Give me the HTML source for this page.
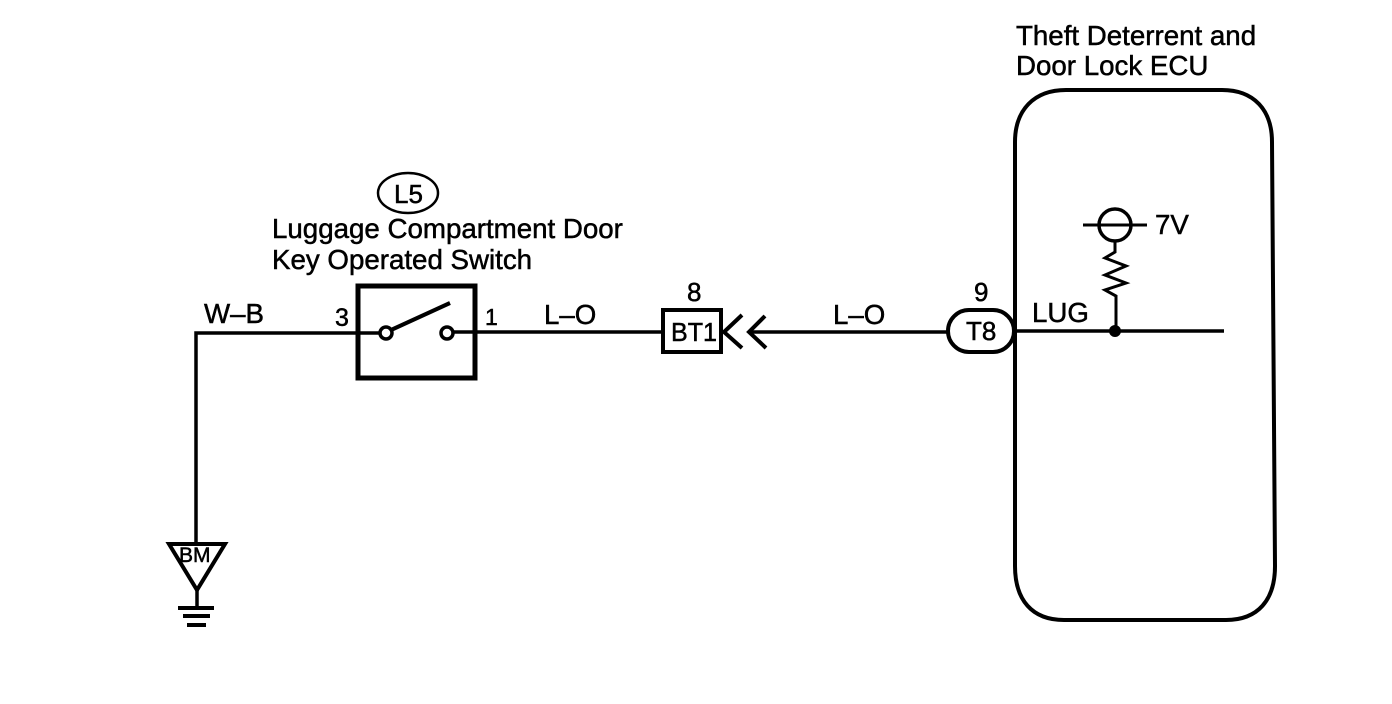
<!DOCTYPE html>
<html><head><meta charset="utf-8"><style>
html,body{margin:0;padding:0;background:#fff;width:1392px;height:704px;overflow:hidden}
svg{display:block}
text{font-family:"Liberation Sans",sans-serif;fill:#000;stroke:#000;stroke-width:.5px;font-size:27.7px}
</style></head><body>
<svg width="1392" height="704" viewBox="0 0 1392 704" xmlns="http://www.w3.org/2000/svg">
<g fill="none" stroke="#000" stroke-linecap="butt">
<!-- ECU -->
<path d="M1066 90H1222C1254 90 1272 110 1272 142L1275 566C1275 600 1258 620 1226 620H1064C1032 620 1015 600 1015 566V142C1015 110 1034 90 1066 90Z" stroke-width="4"/>
<!-- Left wire -->
<path d="M196 542V333H384" stroke-width="3.5"/>
<!-- Switch -->
<rect x="358" y="286" width="117" height="92" stroke-width="5"/>
<circle cx="386" cy="333" r="6" stroke-width="3.5" fill="#fff"/>
<circle cx="447" cy="333" r="6" stroke-width="3.5" fill="#fff"/>
<path d="M391 330L450 303" stroke-width="4"/>
<path d="M453 332H662" stroke-width="3.5"/>
<!-- BT1 -->
<rect x="663" y="310" width="58" height="42" stroke-width="4"/>
<path d="M742 315L724 332L742 348" stroke-width="4"/>
<path d="M765 316L749 332L766 348" stroke-width="4"/>
<path d="M750 332H948" stroke-width="3.5"/>
<!-- T8 -->
<rect x="948" y="310" width="66" height="42" rx="21" ry="21" stroke-width="4"/>
<path d="M1015 331H1224" stroke-width="3.5"/>
<!-- Sensor -->
<circle cx="1115" cy="225" r="16" stroke-width="3.5"/>
<path d="M1083 225H1147" stroke-width="3"/>
<path d="M1115 241V252L1105 258L1126 266L1105 275L1126 283L1105 290L1116 296V331" stroke-width="3"/>
<!-- Ground symbol -->
<path d="M169 544H225L197 590Z" stroke-width="4"/>
<path d="M197 590V607" stroke-width="3.5"/>
<path d="M178 608H214" stroke-width="4"/>
<path d="M183 616H210" stroke-width="4"/>
<path d="M187 625H206" stroke-width="4"/>
<!-- L5 ellipse -->
<ellipse cx="408" cy="193" rx="30" ry="20" stroke-width="2.5"/>
</g>
<circle cx="1115" cy="331" r="6" fill="#000"/>
<text x="1016" y="45">Theft Deterrent and</text>
<text x="1016" y="75">Door Lock ECU</text>
<text x="394" y="203" style="font-size:26px">L5</text>
<text x="272" y="238">Luggage Compartment Door</text>
<text x="272" y="269">Key Operated Switch</text>
<text x="204" y="323">W–B</text>
<text x="335" y="326" style="font-size:25px">3</text>
<text x="485" y="325" style="font-size:23px">1</text>
<text x="544" y="324">L–O</text>
<text x="687" y="301" style="font-size:26px">8</text>
<text x="671" y="341" style="font-size:26px" textLength="46" lengthAdjust="spacingAndGlyphs">BT1</text>
<text x="833" y="324">L–O</text>
<text x="974" y="301" style="font-size:26px">9</text>
<text x="966" y="340" style="font-size:26px">T8</text>
<text x="1032" y="322">LUG</text>
<text x="1155" y="234">7V</text>
<text x="179" y="562" style="font-size:21px">BM</text>
</svg>
</body></html>
